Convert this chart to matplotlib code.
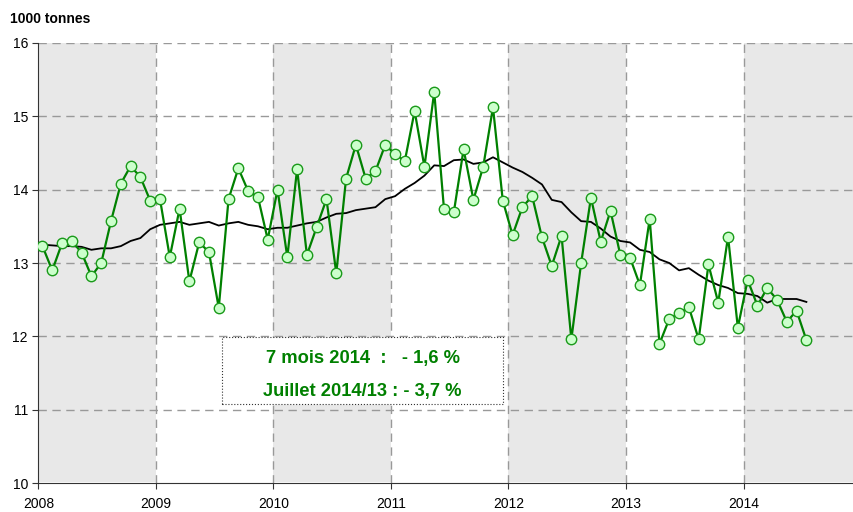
import numpy as np
import matplotlib.pyplot as plt

plt.rcParams['font.family'] = ['Liberation Sans', 'DejaVu Sans']

# monthly values, Jan 2008 .. Jul 2014 (1000 tonnes)
y2008 = [13.23, 12.90, 13.27, 13.30, 13.14, 12.82, 13.00, 13.57, 14.08, 14.32, 14.17, 13.85]
y2009 = [13.87, 13.08, 13.74, 12.75, 13.28, 13.15, 12.39, 13.87, 14.29, 13.98, 13.90, 13.32]
y2010 = [14.00, 13.08, 14.28, 13.11, 13.49, 13.87, 12.86, 14.15, 14.61, 14.15, 14.25, 14.61]
y2011 = [14.48, 14.39, 15.07, 14.31, 15.33, 13.73, 13.69, 14.55, 13.86, 14.31, 15.12, 13.85]
y2012 = [13.38, 13.76, 13.91, 13.35, 12.96, 13.37, 11.96, 13.00, 13.89, 13.29, 13.71, 13.11]
y2013 = [13.07, 12.70, 13.60, 11.90, 12.24, 12.32, 12.40, 11.96, 12.98, 12.46, 13.36, 12.12]
y2014 = [12.77, 12.42, 12.66, 12.50, 12.20, 12.35, 11.95]

# moving average (black line)
ma2008 = [13.25, 13.24, 13.23, 13.23, 13.22, 13.18, 13.20, 13.20, 13.23, 13.30, 13.34, 13.46]
ma2009 = [13.52, 13.54, 13.56, 13.52, 13.54, 13.56, 13.51, 13.54, 13.56, 13.52, 13.50, 13.46]
ma2010 = [13.48, 13.48, 13.51, 13.54, 13.56, 13.62, 13.67, 13.68, 13.72, 13.74, 13.76, 13.87]
ma2011 = [13.91, 14.01, 14.09, 14.19, 14.33, 14.32, 14.40, 14.41, 14.35, 14.37, 14.44, 14.37]
ma2012 = [14.30, 14.24, 14.16, 14.07, 13.86, 13.83, 13.69, 13.57, 13.56, 13.47, 13.36, 13.30]
ma2013 = [13.28, 13.18, 13.15, 13.05, 13.00, 12.90, 12.93, 12.84, 12.76, 12.70, 12.66, 12.59]
ma2014 = [12.58, 12.55, 12.46, 12.51, 12.51, 12.51, 12.47]

values = y2008 + y2009 + y2010 + y2011 + y2012 + y2013 + y2014
moving = ma2008 + ma2009 + ma2010 + ma2011 + ma2012 + ma2013 + ma2014
years = [2008, 2009, 2010, 2011, 2012, 2013, 2014]

x = 2008 + (np.arange(len(values)) + 0.42) / 12.0

fig = plt.figure(figsize=(8.54, 5.12), dpi=100)
ax = fig.add_axes([0.0449, 0.056, 0.9551, 0.8606])

# shaded years
for yr in [2008, 2010, 2012, 2014]:
    ax.axvspan(yr, yr + 1, ymin=0.004, color='#e8e8e8', lw=0, zorder=0)

ax.plot(x, moving, color='black', lw=1.3, zorder=3)
ax.plot(x, values, color='#008000', lw=1.6, marker='o', markersize=7.5,
        markerfacecolor='#ccffcc', markeredgecolor='#1a9a1a', markeredgewidth=1.0, zorder=4)

ax.set_xlim(2008, 2014.94)
ax.set_ylim(10, 16)
ax.set_xticks(years)
ax.set_yticks(range(10, 17))
ax.tick_params(labelsize=10, direction='out', length=4, width=0.8, color='#333333')
ax.tick_params(axis='x', pad=6)

for yy in range(11, 17):
    ax.axhline(yy, color='#999999', lw=1, ls=(0, (6, 4)), zorder=1)
for yr in years[1:]:
    ax.axvline(yr, color='#999999', lw=1, ls=(0, (6, 4)), zorder=1)

for s in ['top', 'right']:
    ax.spines[s].set_visible(False)
ax.spines['left'].set_color('#333333')
ax.spines['bottom'].set_color('#333333')

fig.text(0.012, 0.962, '1000 tonnes', fontsize=10, fontweight='bold', ha='left', va='center')

# annotation box
ax.add_patch(plt.Rectangle((2009.561, 11.08), 2.396, 0.91, facecolor='white',
                           edgecolor='#333333', lw=0.8, ls=':', zorder=5))
ax.text(2010.76, 11.70, '7 mois 2014  :   - 1,6 %', color='#008000', fontsize=13.2,
        fontweight='bold', ha='center', va='center', zorder=6)
ax.text(2010.76, 11.25, 'Juillet 2014/13 : - 3,7 %', color='#008000', fontsize=13.2,
        fontweight='bold', ha='center', va='center', zorder=6)

fig.savefig('out.png', dpi=100)
